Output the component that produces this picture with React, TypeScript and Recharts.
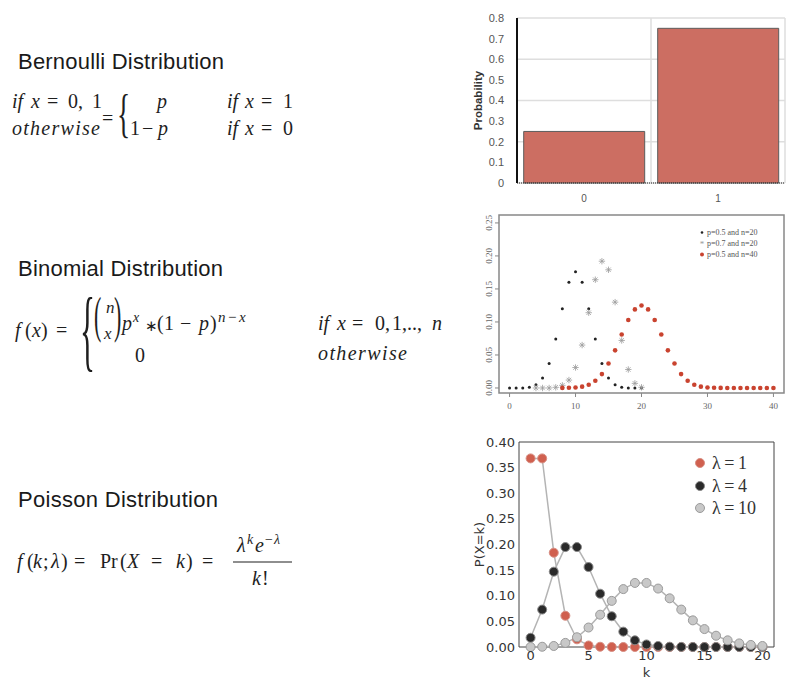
import React from 'react';
import {
  BarChart,
  Bar,
  XAxis,
  YAxis,
  CartesianGrid,
  ReferenceLine,
  ReferenceArea,
  ScatterChart,
  Scatter,
  LineChart,
  Line,
  Legend,
} from 'recharts';

// ---- Bernoulli ----
const bernoulliOutcomes = ['0', '1'];
const bernoulliProbs = [0.25, 0.75];
const bernoulliTicks = [0, 0.1, 0.2, 0.3, 0.4, 0.5, 0.6, 0.7, 0.8];

// ---- Binomial ----
const binomKA = [0, 1, 2, 3, 4, 5, 6, 7, 8, 9, 10, 11, 12, 13, 14, 15, 16, 17, 18, 19, 20];
const binomHalf20 = [0, 0, 0, 0.001, 0.005, 0.015, 0.037, 0.074, 0.12, 0.16, 0.176, 0.16, 0.12, 0.074, 0.037, 0.015, 0.005, 0.001, 0, 0, 0];
const binomKB = [4, 5, 6, 7, 8, 9, 10, 11, 12, 13, 14, 15, 16, 17, 18, 19, 20];
const binomSeven20 = [0, 0, 0, 0.001, 0.004, 0.012, 0.031, 0.065, 0.114, 0.164, 0.192, 0.179, 0.13, 0.072, 0.028, 0.007, 0.001];
const binomKC = [8, 9, 10, 11, 12, 13, 14, 15, 16, 17, 18, 19, 20, 21, 22, 23, 24, 25, 26, 27, 28, 29, 30, 31, 32, 33, 34, 35, 36, 37, 38, 39, 40];
const binomHalf40 = [0.0001, 0.0003, 0.0008, 0.002, 0.005, 0.011, 0.021, 0.037, 0.057, 0.081, 0.103, 0.119, 0.125, 0.119, 0.103, 0.081, 0.057, 0.037, 0.021, 0.011, 0.005, 0.002, 0.0008, 0.0003, 0.0001, 0, 0, 0, 0, 0, 0, 0, 0];
const binomLabels = ['p=0.5 and n=20', 'p=0.7 and n=20', 'p=0.5 and n=40'];
const binomXTicks = [0, 10, 20, 30, 40];
const binomYTicks = [0, 0.05, 0.1, 0.15, 0.2, 0.25];

// ---- Poisson ----
const poissonK = [0, 1, 2, 3, 4, 5, 6, 7, 8, 9, 10, 11, 12, 13, 14, 15, 16, 17, 18, 19, 20];
const poissonL1 = [0.368, 0.368, 0.184, 0.061, 0.015, 0.003, 0.0005, 0.0001, 0, 0, 0, 0, 0, 0, 0, 0, 0, 0, 0, 0, 0];
const poissonL4 = [0.018, 0.073, 0.147, 0.195, 0.195, 0.156, 0.104, 0.06, 0.03, 0.013, 0.005, 0.002, 0.0006, 0.0002, 0, 0, 0, 0, 0, 0, 0];
const poissonL10 = [0.00005, 0.0005, 0.002, 0.008, 0.019, 0.038, 0.063, 0.09, 0.113, 0.125, 0.125, 0.114, 0.095, 0.073, 0.052, 0.035, 0.022, 0.013, 0.007, 0.004, 0.002];
const poissonLabels = ['λ\u2009=\u20091', 'λ\u2009=\u20094', 'λ\u2009=\u200910'];
const poissonXTicks = [0, 5, 10, 15, 20];
const poissonYTicks = [0, 0.05, 0.1, 0.15, 0.2, 0.25, 0.3, 0.35, 0.4];

const SANS = '"Liberation Sans", Arial, Helvetica, sans-serif';
const SERIF = '"Liberation Serif", "Times New Roman", serif';
const MPL = '"DejaVu Sans", sans-serif';

const bernoulliData = bernoulliOutcomes.map((o, i) => ({ outcome: o, prob: bernoulliProbs[i] }));
const toPoints = (xs: number[], ys: number[]) => xs.map((x, i) => ({ x, y: ys[i] }));
const poissonData = poissonK.map((k, i) => ({ k, l1: poissonL1[i], l4: poissonL4[i], l10: poissonL10[i] }));

const binomColors = ['#222', '#9a9a9a', '#c9432f'];
const poissonDots = [
  { fill: '#d0604f', stroke: '#d88f84' },
  { fill: '#2a2a2a', stroke: '#8a8a8a' },
  { fill: '#c8c8c8', stroke: '#9a9a9a' },
];

const SmallDot = (props: any) => <circle cx={props.cx} cy={props.cy} r={1.5} fill={binomColors[0]} />;
const RedDot = (props: any) => <circle cx={props.cx} cy={props.cy} r={2.3} fill={binomColors[2]} />;
const Asterisk = (props: any) => {
  const { cx, cy } = props;
  const r = 3.2;
  const d = r * 0.7;
  return (
    <g stroke={binomColors[1]} strokeWidth={0.8}>
      <line x1={cx - r} y1={cy} x2={cx + r} y2={cy} />
      <line x1={cx} y1={cy - r} x2={cx} y2={cy + r} />
      <line x1={cx - d} y1={cy - d} x2={cx + d} y2={cy + d} />
      <line x1={cx - d} y1={cy + d} x2={cx + d} y2={cy - d} />
    </g>
  );
};

const RotatedTick = (props: any) => {
  const { x, y, payload } = props;
  return (
    <text x={x} y={y} transform={`rotate(-90, ${x}, ${y})`} textAnchor="middle" fontSize={9} fontFamily={SERIF} fill="#666">
      {payload.value.toFixed(2)}
    </text>
  );
};

const BinomLegend = () => (
  <div style={{ fontFamily: SERIF, fontSize: 8, color: '#555', lineHeight: '11px' }}>
    {binomLabels.map((label, i) => (
      <div key={label} style={{ display: 'flex', alignItems: 'center' }}>
        <svg width={8} height={11}>
          {i === 0 && <circle cx={4} cy={5.5} r={1.3} fill={binomColors[0]} />}
          {i === 1 && <text x={4} y={9} textAnchor="middle" fontSize={9} fill={binomColors[1]}>*</text>}
          {i === 2 && <circle cx={4} cy={5.5} r={2} fill={binomColors[2]} />}
        </svg>
        <span style={{ marginLeft: 1 }}>{label}</span>
      </div>
    ))}
  </div>
);

const PoissonLegend = () => (
  <div style={{ fontFamily: SERIF, fontSize: 18, color: '#333', lineHeight: '22.5px' }}>
    {poissonLabels.map((label, i) => (
      <div key={label} style={{ display: 'flex', alignItems: 'center' }}>
        <svg width={12} height={22}>
          <circle cx={6} cy={11} r={4.5} fill={poissonDots[i].fill} stroke={poissonDots[i].stroke} strokeWidth={1} />
        </svg>
        <span style={{ marginLeft: 6 }}>{label}</span>
      </div>
    ))}
  </div>
);

// one token of a formula
const T = ({ x, y, s = 20, i = false, children, len }: any) => (
  <text x={x} y={y} fontSize={s} fontStyle={i ? 'italic' : 'normal'} fontFamily={SERIF} fill="#1e1e1e" textLength={len}>
    {children}
  </text>
);

// a stretched bracket glyph
const Big = ({ x, y, s, sx = 1, sy, children }: any) => (
  <text transform={`translate(${x},${y}) scale(${sx},${sy})`} fontSize={s} fontFamily={SERIF} fill="#1e1e1e">
    {children}
  </text>
);

function Formulas() {
  const title = { fontFamily: SANS, fontSize: 22, fill: '#1a1a1a' } as const;
  return (
    <svg width={460} height={680} style={{ position: 'absolute', left: 0, top: 0 }}>
      {/* Bernoulli */}
      <text x={18} y={69} textLength={206} {...title}>Bernoulli Distribution</text>
      <T x={12} y={108} i>if</T>
      <T x={31} y={108} i>x</T>
      <T x={47} y={108}>=</T>
      <T x={68} y={108}>0,</T>
      <T x={92} y={108}>1</T>
      <T x={12} y={135} i len={88}>otherwise</T>
      <T x={102} y={125}>=</T>
      <Big x={117} y={130.5} s={25} sx={1.1} sy={2.1}>{'{'}</Big>
      <T x={157} y={108} i>p</T>
      <T x={130} y={135}>1</T>
      <T x={142} y={135}>−</T>
      <T x={158} y={135} i>p</T>
      <T x={227} y={108} i>if</T>
      <T x={245} y={108} i>x</T>
      <T x={261} y={108}>=</T>
      <T x={283} y={108}>1</T>
      <T x={227} y={135} i>if</T>
      <T x={245} y={135} i>x</T>
      <T x={261} y={135}>=</T>
      <T x={283} y={135}>0</T>

      {/* Binomial */}
      <text x={18} y={276} textLength={205} {...title}>Binomial Distribution</text>
      <T x={15} y={337} i>f</T>
      <T x={25} y={337}>(</T>
      <T x={32} y={337} i>x</T>
      <T x={41} y={337}>)</T>
      <T x={56} y={337}>=</T>
      <Big x={80} y={360} s={25} sx={1.25} sy={3.6}>{'{'}</Big>
      <Big x={94} y={332} s={22} sy={2.3}>(</Big>
      <Big x={114} y={332} s={22} sy={2.3}>)</Big>
      <T x={106} y={313} s={17} i>n</T>
      <T x={104} y={339} s={17} i>x</T>
      <T x={122} y={330} i>p</T>
      <T x={133} y={322} s={14} i>x</T>
      <T x={145} y={331} s={15}>∗</T>
      <T x={157} y={330}>(</T>
      <T x={164} y={330}>1</T>
      <T x={180} y={330}>−</T>
      <T x={199} y={330} i>p</T>
      <T x={210} y={330}>)</T>
      <T x={218} y={322} s={15} i>n</T>
      <T x={228} y={322} s={15}>−</T>
      <T x={239} y={322} s={15} i>x</T>
      <T x={135} y={362}>0</T>
      <T x={318} y={330} i>if</T>
      <T x={337} y={330} i>x</T>
      <T x={352} y={330}>=</T>
      <T x={375} y={330}>0,</T>
      <T x={392} y={330}>1,</T>
      <T x={407} y={330}>..,</T>
      <T x={432} y={330} i>n</T>
      <T x={318} y={360} i len={89}>otherwise</T>

      {/* Poisson */}
      <text x={18} y={507} textLength={200} {...title}>Poisson Distribution</text>
      <T x={17} y={568} i>f</T>
      <T x={27} y={568}>(</T>
      <T x={33} y={568} i>k</T>
      <T x={43} y={568}>;</T>
      <T x={51} y={568} i>λ</T>
      <T x={61} y={568}>)</T>
      <T x={74} y={568}>=</T>
      <T x={100} y={568}>Pr</T>
      <T x={120} y={568}>(</T>
      <T x={127} y={568} i>X</T>
      <T x={151} y={568}>=</T>
      <T x={176} y={568} i>k</T>
      <T x={186} y={568}>)</T>
      <T x={202} y={568}>=</T>
      <T x={237} y={552} i>λ</T>
      <T x={247} y={544} s={14} i>k</T>
      <T x={255} y={552} i>e</T>
      <T x={265} y={544} s={14}>−</T>
      <T x={274} y={544} s={14} i>λ</T>
      <line x1={233} y1={562} x2={292} y2={562} stroke="#1e1e1e" strokeWidth={1.2} />
      <T x={252} y={585} i>k</T>
      <T x={262} y={585}>!</T>
    </svg>
  );
}

function BernoulliChart() {
  return (
    <div style={{ position: 'absolute', left: 460, top: 0 }}>
      <BarChart width={340} height={210} data={bernoulliData} margin={{ top: 18, right: 15, left: 0, bottom: 0 }} barCategoryGap="5%">
        <CartesianGrid vertical={false} stroke="#dedede" strokeWidth={1.5} />
        <ReferenceLine x="0" position="end" stroke="#dedede" strokeWidth={1.5} />
        <ReferenceLine x="1" position="end" stroke="#dedede" strokeWidth={1.5} />
        <XAxis
          dataKey="outcome"
          height={27}
          axisLine={{ stroke: '#222', strokeDasharray: '1 1' }}
          tickLine={false}
          tickMargin={6}
          tick={{ fontSize: 10, fill: '#555', fontFamily: SANS }}
        />
        <YAxis
          width={57}
          domain={[0, 0.8]}
          ticks={bernoulliTicks}
          axisLine={{ stroke: '#111', strokeWidth: 2 }}
          tickLine={false}
          tickMargin={7}
          tick={{ fontSize: 11, fill: '#555', fontFamily: SANS }}
          label={{
            value: 'Probability',
            angle: -90,
            position: 'insideLeft',
            offset: 18,
            style: { textAnchor: 'middle', fontWeight: 'bold', fontSize: 11.5, fill: '#333', fontFamily: SANS },
          }}
        />
        <Bar dataKey="prob" fill="#cc6e62" stroke="#5c5c5c" strokeWidth={1} isAnimationActive={false} />
      </BarChart>
    </div>
  );
}

function BinomialChart() {
  return (
    <div style={{ position: 'absolute', left: 460, top: 210 }}>
      <ScatterChart width={340} height={205} margin={{ top: 5, right: 16, left: 0, bottom: 0 }}>
        <XAxis
          type="number"
          dataKey="x"
          domain={[-1.6, 41.6]}
          ticks={binomXTicks}
          height={22}
          axisLine={false}
          tickLine={{ stroke: '#888' }}
          tickSize={4}
          tickMargin={6}
          tick={{ fontSize: 9, fill: '#666', fontFamily: SERIF }}
        />
        <YAxis
          type="number"
          dataKey="y"
          domain={[-0.0076, 0.262]}
          ticks={binomYTicks}
          width={39}
          axisLine={false}
          tickLine={{ stroke: '#888' }}
          tickSize={4}
          tickMargin={3}
          tick={<RotatedTick />}
        />
        <ReferenceArea x1={-1.6} x2={41.6} y1={-0.0076} y2={0.262} fill="none" stroke="#888" strokeWidth={1.5} />
        <Legend
          layout="vertical"
          align="center"
          verticalAlign="middle"
          wrapperStyle={{ left: 238, top: 17, width: 'auto' }}
          content={<BinomLegend />}
        />
        <Scatter name={binomLabels[0]} data={toPoints(binomKA, binomHalf20)} shape={<SmallDot />} isAnimationActive={false} />
        <Scatter name={binomLabels[1]} data={toPoints(binomKB, binomSeven20)} shape={<Asterisk />} isAnimationActive={false} />
        <Scatter name={binomLabels[2]} data={toPoints(binomKC, binomHalf40)} shape={<RedDot />} isAnimationActive={false} />
      </ScatterChart>
    </div>
  );
}

function PoissonChart() {
  const lineProps = { type: 'linear' as const, stroke: '#b4b4b4', strokeWidth: 1.5, isAnimationActive: false };
  return (
    <div style={{ position: 'absolute', left: 460, top: 430 }}>
      <LineChart width={340} height={250} data={poissonData} margin={{ top: 12, right: 26, left: 0, bottom: 0 }}>
        <XAxis
          type="number"
          dataKey="k"
          domain={[-1, 21]}
          ticks={poissonXTicks}
          height={33}
          axisLine={false}
          tickLine={false}
          tickSize={0}
          tickMargin={4}
          tick={{ fontSize: 13, fill: '#333', fontFamily: MPL }}
          label={{ value: 'k', position: 'insideBottom', offset: 3, style: { fontSize: 13, fill: '#333', fontFamily: MPL } }}
        />
        <YAxis
          type="number"
          domain={[0, 0.4]}
          ticks={poissonYTicks}
          width={59}
          axisLine={false}
          tickLine={false}
          tickSize={0}
          tickMargin={4}
          tickFormatter={(v: number) => v.toFixed(2)}
          tick={{ fontSize: 13, fill: '#333', fontFamily: MPL }}
          label={{
            value: 'P(X=k)',
            angle: -90,
            position: 'insideLeft',
            offset: 19,
            style: { textAnchor: 'middle', fontSize: 13, fill: '#333', fontFamily: MPL },
          }}
        />
        <ReferenceArea x1={-1} x2={21} y1={0} y2={0.4} fill="none" stroke="#444" strokeWidth={1} />
        <Legend
          layout="vertical"
          align="center"
          verticalAlign="middle"
          wrapperStyle={{ left: 234, top: 22, width: 'auto' }}
          content={<PoissonLegend />}
        />
        <Line {...lineProps} dataKey="l1" name={poissonLabels[0]} dot={{ r: 4.5, strokeWidth: 1, ...poissonDots[0] }} />
        <Line {...lineProps} dataKey="l4" name={poissonLabels[1]} dot={{ r: 4.5, strokeWidth: 1, ...poissonDots[1] }} />
        <Line {...lineProps} dataKey="l10" name={poissonLabels[2]} dot={{ r: 4.5, strokeWidth: 1, ...poissonDots[2] }} />
      </LineChart>
    </div>
  );
}

export default function App() {
  return (
    <div style={{ position: 'absolute', left: 0, top: 0, width: 800, height: 680, background: '#fff', overflow: 'hidden' }}>
      <Formulas />
      <BernoulliChart />
      <BinomialChart />
      <PoissonChart />
    </div>
  );
}
